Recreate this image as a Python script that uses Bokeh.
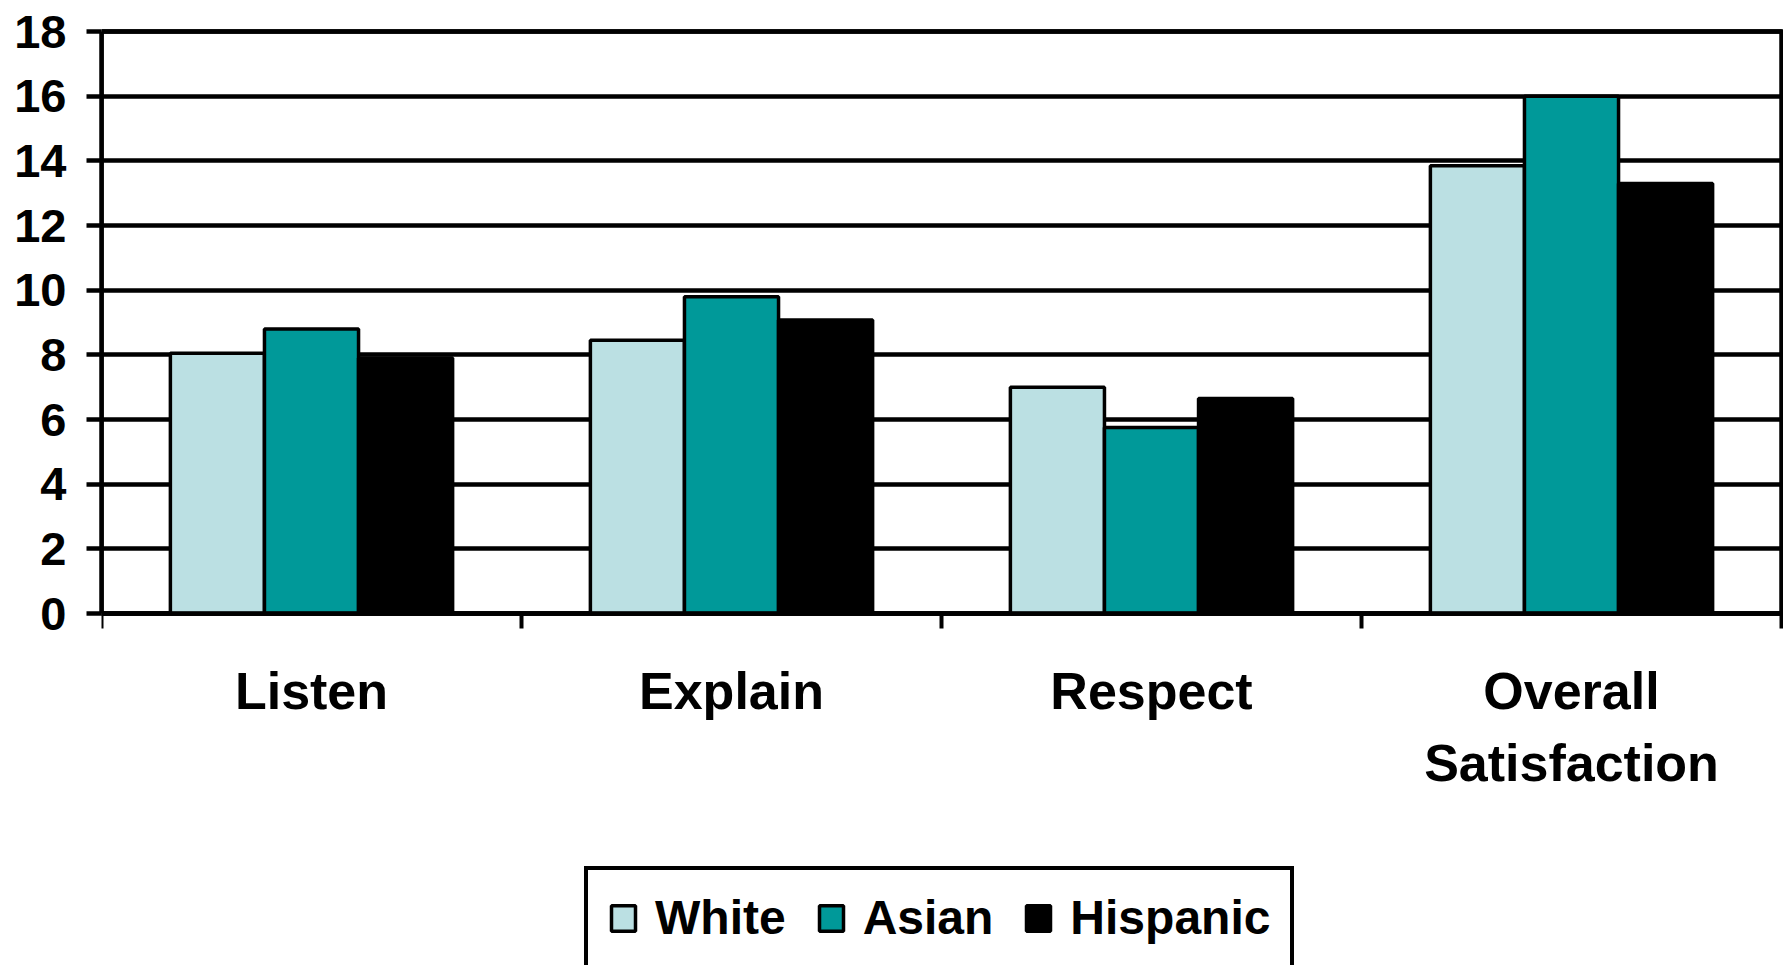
import numpy as np
from bokeh.plotting import figure
from bokeh.models import FixedTicker, Legend, LegendItem, Range1d, ColumnDataSource, BoxAnnotation
from bokeh.embed import file_html
from bokeh.resources import INLINE

categories = ["Listen", "Explain", "Respect", "Overall\nSatisfaction"]
series = ["White", "Asian", "Hispanic"]
white = [8.05, 8.45, 7.0, 13.85]
asian = [8.8, 9.8, 5.75, 16.0]
hispanic = [7.9, 9.08, 6.65, 13.3]
y_ticks = [0, 2, 4, 6, 8, 10, 12, 14, 16, 18]
colors = ["#BBE0E3", "#009999", "#000000"]

FONT = "Liberation Sans"
n = len(categories)
centers = np.arange(n) + 0.5
bar_w = 0.224
offsets = [-bar_w, 0.0, bar_w]
y_max = y_ticks[-1]

# layout (pixels)
W, H = 1783, 965
left_px, right_px = 101, 1781
top18_px, zero_px, frame_top = 31, 613, 24
px_per_unit = (zero_px - top18_px) / y_max
y_start = -(H - zero_px) / px_per_unit          # room below zero for labels and legend
y_end = y_max + (top18_px - frame_top) / px_per_unit
px_per_cat = (right_px - left_px) / n
x_end = n + (W - right_px) / px_per_cat

p = figure(width=W, height=H, x_range=Range1d(0, x_end), y_range=Range1d(y_start, y_end),
           output_backend="svg", toolbar_location=None,
           min_border_left=left_px, min_border_right=0, min_border_top=frame_top, min_border_bottom=0)
p.background_fill_color = "white"
p.border_fill_color = "white"
p.outline_line_color = None

renderers = []
for j, (name, vals) in enumerate(zip(series, [white, asian, hispanic])):
    src = ColumnDataSource(dict(x=centers + offsets[j], top=vals))
    r = p.vbar(x="x", top="top", bottom=0, width=bar_w, source=src,
               fill_color=colors[j], line_color="black", line_width=3.5)
    renderers.append(r)

# plot-area border
p.add_layout(BoxAnnotation(left=0, right=n, bottom=0, top=y_max, fill_color=None, fill_alpha=0,
                           line_color="black", line_alpha=1.0, line_width=4.5, level="underlay"))

# x axis at y = 0: category labels at centres, boundary ticks as minor ticks
xa = p.xaxis[0]
xa.fixed_location = 0
xa.bounds = (0, n)
xa.ticker = FixedTicker(ticks=list(centers), minor_ticks=list(range(n + 1)))
xa.major_label_overrides = {float(c): cat for c, cat in zip(centers, categories)}
xa.axis_line_color = "black"
xa.axis_line_width = 4.5
xa.major_tick_out = 0
xa.major_tick_in = 0
xa.minor_tick_out = 15
xa.minor_tick_in = 0
xa.minor_tick_line_color = "black"
xa.minor_tick_line_width = 4
xa.major_label_standoff = 33
xa.major_label_text_font = FONT
xa.major_label_text_font_style = "bold"
xa.major_label_text_font_size = "52px"
xa.major_label_text_color = "black"
xa.major_label_text_line_height = 1.25

ya = p.yaxis[0]
ya.bounds = (0, y_max)
ya.ticker = FixedTicker(ticks=y_ticks, minor_ticks=[])
ya.axis_line_color = "black"
ya.axis_line_width = 4.5
ya.major_tick_out = 15
ya.major_tick_in = 0
ya.major_tick_line_color = "black"
ya.major_tick_line_width = 4.5
ya.major_label_standoff = 20
ya.major_label_text_font = FONT
ya.major_label_text_font_style = "bold"
ya.major_label_text_font_size = "47px"
ya.major_label_text_color = "black"

p.xgrid.visible = False
p.ygrid.ticker = FixedTicker(ticks=y_ticks, minor_ticks=[])
p.ygrid.bounds = (0, n)
p.ygrid.grid_line_color = "black"
p.ygrid.grid_line_width = 4.5

legend = Legend(items=[LegendItem(label=s, renderers=[r]) for s, r in zip(series, renderers)],
                orientation="horizontal", location=(483, -4),
                label_text_font=FONT, label_text_font_style="bold", label_text_font_size="48px",
                label_text_color="black",
                glyph_width=30, glyph_height=32, label_standoff=17, spacing=30, padding=20,
                border_line_color="black", border_line_width=4, border_line_alpha=1.0, margin=0,
                background_fill_color="white", background_fill_alpha=1.0)
p.add_layout(legend)

open("out.html", "w").write(file_html(p, INLINE))
